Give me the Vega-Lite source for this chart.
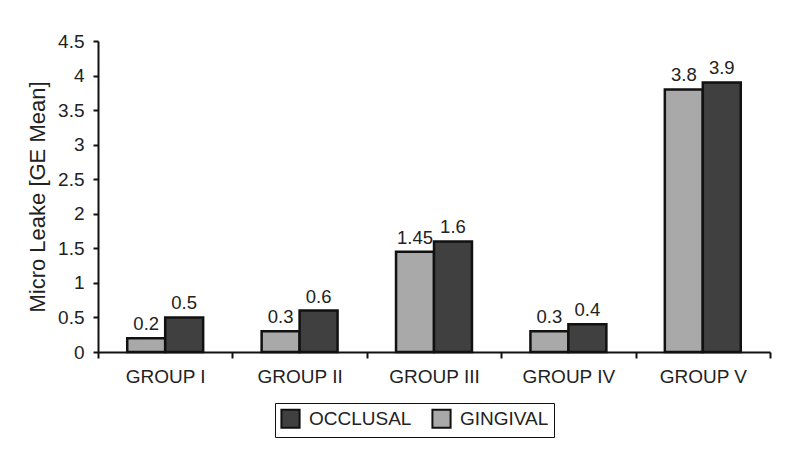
{
  "$schema": "https://vega.github.io/schema/vega-lite/v6.json",
  "width": 672,
  "height": 311,
  "autosize": {"type": "none"},
  "padding": {"left": 98, "top": 41, "right": 23, "bottom": 117},
  "background": "white",
  "config": {
    "font": "Liberation Sans",
    "view": {"stroke": null}
  },
  "data": {
    "values": [
      {"group": "GROUP I", "site": "GINGIVAL", "value": 0.2},
      {"group": "GROUP I", "site": "OCCLUSAL", "value": 0.5},
      {"group": "GROUP II", "site": "GINGIVAL", "value": 0.3},
      {"group": "GROUP II", "site": "OCCLUSAL", "value": 0.6},
      {"group": "GROUP III", "site": "GINGIVAL", "value": 1.45},
      {"group": "GROUP III", "site": "OCCLUSAL", "value": 1.6},
      {"group": "GROUP IV", "site": "GINGIVAL", "value": 0.3},
      {"group": "GROUP IV", "site": "OCCLUSAL", "value": 0.4},
      {"group": "GROUP V", "site": "GINGIVAL", "value": 3.8},
      {"group": "GROUP V", "site": "OCCLUSAL", "value": 3.9}
    ]
  },
  "encoding": {
    "x": {
      "field": "group", "type": "nominal",
      "sort": ["GROUP I", "GROUP II", "GROUP III", "GROUP IV", "GROUP V"],
      "scale": {"paddingInner": 0, "paddingOuter": 0},
      "axis": {
        "title": null, "labelAngle": 0, "tickBand": "extent",
        "domainColor": "#111", "domainWidth": 2, "tickColor": "#111", "tickWidth": 2, "tickSize": 6,
        "labelFontSize": 19, "labelColor": "#222", "labelPadding": 9
      }
    },
    "xOffset": {
      "field": "site", "type": "nominal", "sort": ["GINGIVAL", "OCCLUSAL"],
      "scale": {"paddingInner": 0, "paddingOuter": 0.77}
    },
    "y": {
      "field": "value", "type": "quantitative",
      "scale": {"domain": [0, 4.5], "nice": false},
      "axis": {
        "title": "Micro Leake [GE Mean]", "values": [0, 0.5, 1, 1.5, 2, 2.5, 3, 3.5, 4, 4.5], "format": "~g",
        "grid": false, "domainColor": "#111", "domainWidth": 2, "tickColor": "#111", "tickWidth": 2, "tickSize": 5,
        "labelFontSize": 19, "labelColor": "#222", "labelPadding": 9,
        "titleFontSize": 22, "titleFontWeight": "normal", "titleColor": "#222", "titlePadding": 8
      }
    }
  },
  "layer": [
    {
      "mark": {"type": "bar", "stroke": "#111", "strokeWidth": 2.5},
      "encoding": {
        "color": {
          "field": "site", "type": "nominal",
          "scale": {"domain": ["OCCLUSAL", "GINGIVAL"], "range": ["#404040", "#a9a9a9"]},
          "legend": {
            "title": null, "orient": "none", "direction": "horizontal", "legendX": 177, "legendY": 362,
            "symbolType": "square", "symbolSize": 330, "symbolStrokeColor": "#111", "symbolStrokeWidth": 2,
            "labelFontSize": 19, "labelColor": "#222", "labelOffset": 8,
            "strokeColor": "#111", "padding": 5, "columnPadding": 16,
            "encoding": {"legend": {"update": {"strokeWidth": {"value": 3}}}}
          }
        }
      }
    },
    {
      "mark": {"type": "text", "baseline": "bottom", "dy": -4, "fontSize": 18.5, "color": "#222"},
      "encoding": {"text": {"field": "value", "type": "quantitative"}}
    }
  ]
}
